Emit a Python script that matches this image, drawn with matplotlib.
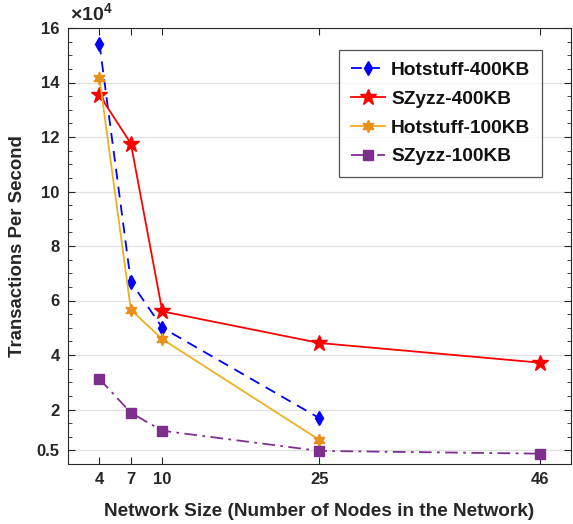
import matplotlib
matplotlib.use("Agg")
import matplotlib.pyplot as plt
from matplotlib.ticker import MultipleLocator

plt.rcParams['font.family'] = ['Liberation Sans', 'DejaVu Sans']
plt.rcParams['font.weight'] = 'bold'
plt.rcParams['mathtext.fontset'] = 'custom'
plt.rcParams['mathtext.rm'] = 'Liberation Sans'
plt.rcParams['mathtext.bf'] = 'Liberation Sans:bold'

# Data (transactions per second, in units of 1e4)
nodes_a = [4, 7, 10, 25]
nodes_b = [4, 7, 10, 25, 46]
hotstuff_400 = [15.43, 6.68, 5.0, 1.68]
szyzz_400 = [13.54, 11.76, 5.6, 4.44, 3.72]
hotstuff_100 = [14.17, 5.66, 4.58, 0.88]
szyzz_100 = [3.12, 1.88, 1.22, 0.48, 0.38]

x_ticks = [4, 7, 10, 25, 46]
y_ticks = [0.5, 2, 4, 6, 8, 10, 12, 14, 16]
y_ticklabels = ['0.5', '2', '4', '6', '8', '10', '12', '14', '16']

fig = plt.figure(figsize=(5.73, 5.24), dpi=100)
ax = fig.add_axes([68/573, 60/524, (571-68)/573, (464-28)/524])

ax.plot(nodes_a, hotstuff_400, color='#0000FF', linestyle=(0, (6, 4)), linewidth=1.3,
        marker='d', markersize=7.5, label='Hotstuff-400KB')
ax.plot(nodes_b, szyzz_400, color='#FF0000', linestyle='-', linewidth=1.3,
        marker='*', markersize=12, label='SZyzz-400KB')
ax.plot(nodes_a, hotstuff_100, color='#EDB120', linestyle='-', linewidth=1.3,
        marker=(6, 1, 0), markersize=9, markerfacecolor='#E8901A', markeredgecolor='#E8901A',
        label='Hotstuff-100KB')
ax.plot(nodes_b, szyzz_100, color='#7E2F8E', linestyle=(0, (7, 3, 1.5, 3)), linewidth=1.3,
        marker='s', markersize=6.5, label='SZyzz-100KB')

ax.set_xlim(1, 49)
ax.set_ylim(0, 16)
ax.set_xticks(x_ticks)
ax.set_xticklabels([str(t) for t in x_ticks])
ax.set_yticks(y_ticks)
ax.set_yticklabels(y_ticklabels)
ax.yaxis.set_minor_locator(MultipleLocator(0.5))

ax.grid(axis='y', which='major', color='#E0E0E0', linewidth=0.9)
ax.set_axisbelow(True)

ax.tick_params(axis='both', which='both', direction='in', top=True, right=True,
               colors='#262626', labelsize=12, labelcolor='#262626')
ax.tick_params(axis='both', which='major', length=5, width=0.8, pad=6)
ax.tick_params(axis='y', which='minor', length=3, width=0.6)
for s in ax.spines.values():
    s.set_color('#262626')
    s.set_linewidth(0.8)

ax.set_xlabel('Network Size (Number of Nodes in the Network)', fontsize=13.7,
              fontweight='bold', color='#262626', labelpad=11)
ax.set_ylabel('Transactions Per Second', fontsize=13.4, fontweight='bold',
              color='#262626', labelpad=8)

ax.text(0.003, 1.008, r'$\times\mathbf{10^{4}}$', transform=ax.transAxes, fontsize=14,
        ha='left', va='bottom', color='#262626')

leg = ax.legend(loc='upper right', bbox_to_anchor=(0.942, 0.95), borderaxespad=0,
                fontsize=13.8, frameon=True, fancybox=False, edgecolor='#262626',
                handlelength=1.8, labelspacing=0.6, borderpad=0.6, handletextpad=0.3)
leg.get_frame().set_linewidth(0.9)
for t in leg.get_texts():
    t.set_fontweight('bold')
    t.set_color('#111111')

fig.savefig('out.png', dpi=100)
